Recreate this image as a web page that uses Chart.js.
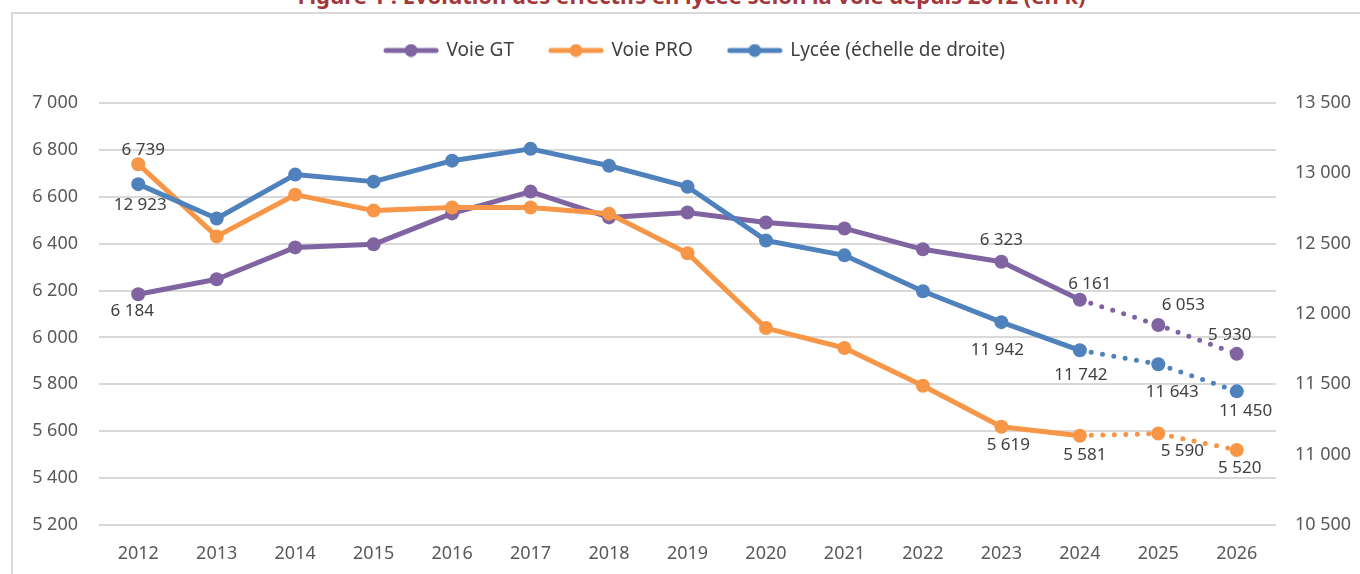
<!DOCTYPE html>
<html lang="fr">
<head>
<meta charset="utf-8">
<script src="https://cdn.jsdelivr.net/npm/chart.js@4"></script>
<style>
  html, body { margin: 0; padding: 0; background: #fff; overflow: hidden; }
  body { width: 1360px; height: 574px; position: relative; font-family: "Noto Sans", sans-serif; }
  #titre {
    position: absolute; left: 0; width: 1383px; top: -20px; text-align: center;
    font: bold 22px "Noto Sans", sans-serif; color: #a3373a; white-space: nowrap;
  }
  #cadre {
    position: absolute; left: 11px; top: 12px; width: 1400px; height: 600px;
    border-left: 2px solid #d9d9d9; border-top: 2px solid #d9d9d9;
  }
  #zone { position: absolute; left: 0; top: 0; width: 1360px; height: 574px; }
</style>
</head>
<body>
<div id="titre">Figure 1 : Évolution des effectifs en lycée selon la voie depuis 2012 (en k)</div>
<div id="cadre"></div>
<div id="zone"><canvas id="graph"></canvas></div>
<script>
const annees = ['2012','2013','2014','2015','2016','2017','2018','2019','2020','2021','2022','2023','2024','2025','2026'];
const voieGT  = [6184, 6248, 6384, 6397, 6529, 6622, 6512, 6533, 6490, 6465, 6376, 6323, 6161, 6053, 5930];
const voiePRO = [6739, 6431, 6609, 6541, 6554, 6554, 6528, 6359, 6040, 5955, 5794, 5619, 5581, 5590, 5520];
const lycee   = [12923, 12679, 12991, 12941, 13090, 13174, 13054, 12905, 12523, 12417, 12162, 11942, 11742, 11643, 11450];

// index à partir duquel la courbe passe en pointillés (projections)
const debutProjection = 12;

// étiquettes affichées : [index, décalage x, décalage y]
const etiqGT   = [[0, -6, 17], [11, 0, -22], [12, 10, -16], [13, 25, -20], [14, -7, -19]];
const etiqPRO  = [[0, 5, -14], [11, 7, 18], [12, 5, 19], [13, 24, 18], [14, 3, 18]];
const etiqLyc  = [[0, 2, 21], [11, -4, 28], [12, 1, 25], [13, 14, 28], [14, 9, 20]];

function milliers(v) {
    return String(v).replace(/\B(?=(\d{3})+(?!\d))/g, ' ');
}

function pastille(couleur) {
    const c = document.createElement('canvas');
    c.width = 56; c.height = 14;
    const g = c.getContext('2d');
    g.strokeStyle = couleur; g.lineWidth = 5; g.lineCap = 'round';
    g.beginPath(); g.moveTo(3, 7); g.lineTo(53, 7); g.stroke();
    g.fillStyle = couleur;
    g.beginPath(); g.arc(28, 7, 6.5, 0, Math.PI * 2); g.fill();
    return c;
}

const etiquettes = {
    id: 'etiquettes',
    afterInit(chart) {
        // espace supplémentaire sous la légende, légende un peu décalée à droite
        const leg = chart.legend;
        const fitOrig = leg.fit;
        const drawOrig = leg.draw;
        leg.fit = function () {
            fitOrig.call(this);
            this.height += 33;
        };
        leg.draw = function () {
            this.ctx.save();
            this.ctx.translate(15, 0);
            drawOrig.call(this);
            this.ctx.restore();
        };
    },
    afterDatasetsDraw(chart) {
        const ctx = chart.ctx;
        ctx.save();
        ctx.font = '17px "Noto Sans", sans-serif';
        ctx.fillStyle = '#404040';
        ctx.textAlign = 'center';
        ctx.textBaseline = 'middle';
        chart.data.datasets.forEach((ds, i) => {
            const meta = chart.getDatasetMeta(i);
            ds.etiquettes.forEach(([idx, dx, dy]) => {
                const pt = meta.data[idx];
                ctx.fillText(milliers(ds.data[idx]), pt.x + dx, pt.y + dy);
            });
        });
        ctx.restore();
    }
};

function serie(label, data, couleur, axe, ordre, etiq) {
    return {
        label: label,
        data: data,
        yAxisID: axe,
        order: ordre,
        borderColor: couleur,
        backgroundColor: couleur,
        borderWidth: 5,
        borderCapStyle: 'round',
        borderJoinStyle: 'round',
        pointRadius: 7,
        pointBorderWidth: 0,
        pointHoverRadius: 7,
        tension: 0,
        etiquettes: etiq,
        segment: {
            borderDash: c => c.p0DataIndex >= debutProjection ? [0, 11.5] : undefined
        },
        pointStyle: 'circle',
        legendImage: pastille(couleur)
    };
}

const police = { family: '"Noto Sans", sans-serif', size: 18 };

const ctx = document.getElementById('graph').getContext('2d');
new Chart(ctx, {
    type: 'line',
    data: {
        labels: annees,
        datasets: [
            serie('Voie GT', voieGT, '#8064a2', 'y', 2, etiqGT),
            serie('Voie PRO', voiePRO, '#f79646', 'y', 1, etiqPRO),
            serie('Lycée (échelle de droite)', lycee, '#4f81bd', 'y1', 0, etiqLyc)
        ]
    },
    options: {
        responsive: true,
        maintainAspectRatio: false,
        animation: false,
        layout: { padding: { top: 5, left: 0, right: 0, bottom: 0 } },
        plugins: {
            tooltip: { enabled: false },
            legend: {
                position: 'top',
                labels: {
                    usePointStyle: true,
                    pointStyleWidth: 52,
                    boxHeight: 14,
                    padding: 36,
                    color: '#404040',
                    font: { family: '"Noto Sans", sans-serif', size: 19 },
                    generateLabels(chart) {
                        return chart.data.datasets.map((ds, i) => ({
                            text: ds.label,
                            pointStyle: ds.legendImage,
                            fillStyle: ds.borderColor,
                            strokeStyle: ds.borderColor,
                            fontColor: '#404040',
                            lineWidth: 0,
                            hidden: false,
                            datasetIndex: i
                        }));
                    }
                }
            }
        },
        scales: {
            x: {
                offset: true,
                grid: { display: false, drawTicks: false },
                border: { display: false },
                ticks: { padding: 18, color: '#595959', font: police },
                afterFit(s) { s.height = 49; }
            },
            y: {
                position: 'left',
                min: 5200, max: 7000,
                grid: { color: '#d9d9d9', lineWidth: 2, drawTicks: false },
                border: { display: false },
                ticks: {
                    stepSize: 200,
                    padding: 21,
                    color: '#595959',
                    font: police,
                    callback: v => milliers(v)
                },
                afterFit(s) { s.width = 99; }
            },
            y1: {
                position: 'right',
                min: 10500, max: 13500,
                grid: { display: false, drawTicks: false },
                border: { display: false },
                ticks: {
                    stepSize: 500,
                    padding: 19,
                    color: '#595959',
                    font: police,
                    callback: v => milliers(v)
                },
                afterFit(s) { s.width = 84; }
            }
        }
    },
    plugins: [etiquettes]
});
</script>
</body>
</html>
